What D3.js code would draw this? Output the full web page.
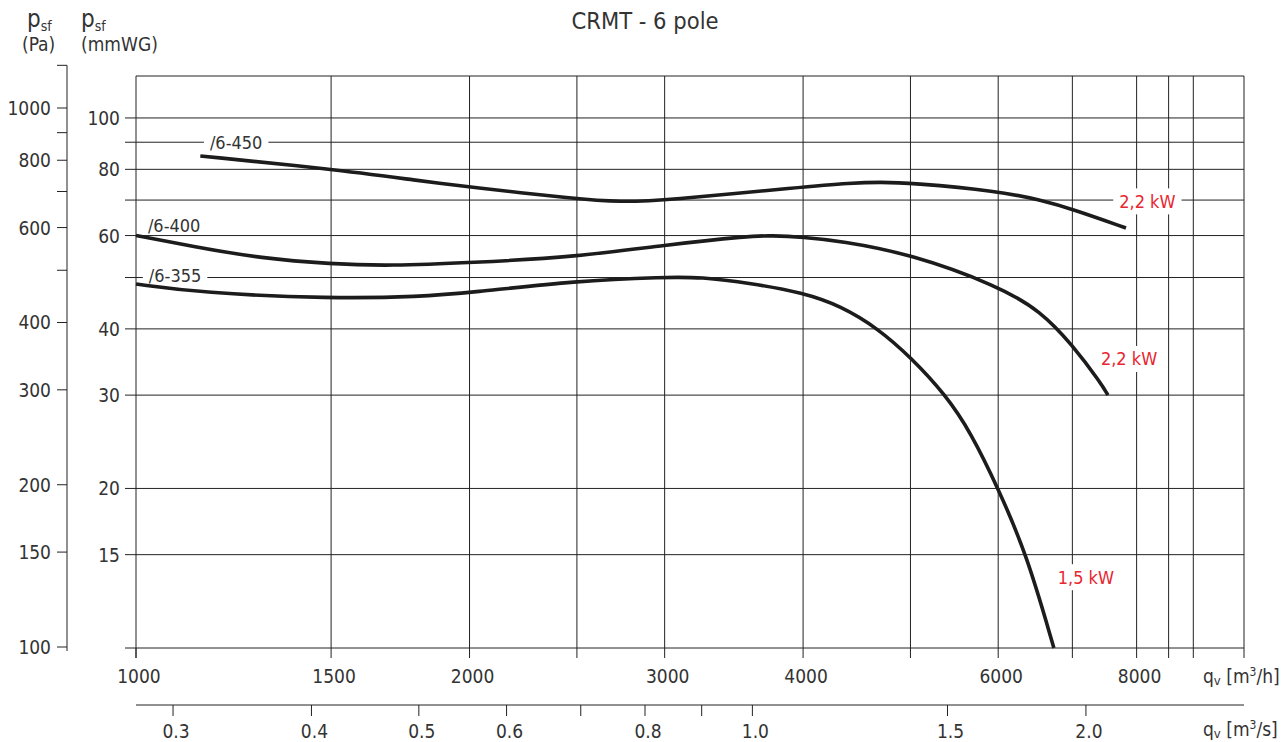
<!DOCTYPE html>
<html>
<head>
<meta charset="utf-8">
<script src="https://cdn.jsdelivr.net/npm/d3@7/dist/d3.min.js"></script>
<style>
  body { margin: 0; background: #fff; }
  svg { display: block; font-family: "Liberation Sans Narrow", "DejaVu Sans Condensed", sans-serif; }
</style>
</head>
<body>
<svg id="chart" width="1282" height="742"></svg>
<script>
// airflow q [m3/h] and static pressure p [mmWG]
const q450 = [1143, 1500, 1805, 2000, 2500, 2736, 3000, 4000, 4415, 4703, 5000, 6000, 6556, 7000, 7825];
const p450 = [84.8, 80.1, 76.1, 74.1, 70.3, 69.4, 69.9, 74.1, 75.4, 75.7, 75.4, 72.8, 70.0, 67.3, 62.0];

const q400 = [1000, 1143, 1294, 1500, 1696, 2000, 2500, 3000, 3586, 3739, 4000, 4325, 5000, 6000, 6556, 7000, 7428, 7537];
const p400 = [60.0, 56.9, 54.4, 53.0, 52.6, 53.3, 54.7, 57.6, 59.9, 60.0, 59.6, 58.6, 55.4, 48.2, 43.2, 37.3, 31.6, 30.0];

const q355 = [1000, 1143, 1500, 1805, 2000, 2500, 3000, 3232, 3586, 4000, 4325, 4671, 5000, 5381, 5668, 6000, 6368, 6736];
const p355 = [48.6, 46.8, 45.6, 46.0, 46.8, 49.3, 50.1, 50.1, 48.8, 46.8, 44.2, 40.1, 35.4, 30.0, 25.5, 20.0, 15.0, 10.0];

const curveNames = ['/6-450', '/6-400', '/6-355'];
const motorLabels = ['2,2 kW', '2,2 kW', '1,5 kW'];

// ticks
const qTicks = [1000, 1500, 2000, 3000, 4000, 6000, 8000];
const qGrid = [1500, 2000, 2500, 3000, 4000, 5000, 6000, 7000, 8000, 8550, 9000, 10000];
const qsTicks = [0.3, 0.4, 0.5, 0.6, 0.7, 0.8, 0.9, 1.0, 1.5, 2.0];
const qsLabels = ['0.3', '0.4', '0.5', '0.6', '0.8', '1.0', '1.5', '2.0'];
const mmTicks = [10, 15, 20, 30, 40, 50, 60, 70, 80, 90, 100];
const mmLabels = [15, 20, 30, 40, 60, 80, 100];
const paTicks = [100, 150, 200, 300, 400, 500, 600, 700, 800, 900, 1000, 1200];
const paLabels = [100, 150, 200, 300, 400, 600, 800, 1000];

const svg = d3.select('#chart');
const ink = '#222';
const txt = '#333';
const red = '#e8262f';

var x = d3.scaleLog().domain([1000, 10000]).range([136, 1244]);
var y = d3.scaleLog().domain([10, 120]).range([648, 76]);
var yPa = d3.scaleLog().domain([100, 1000]).range([647, 108]);

// title
svg.append('text')
  .attr('x', 645).attr('y', 29)
  .attr('text-anchor', 'middle')
  .style('font-size', '23.5px')
  .attr('fill', txt)
  .text('CRMT - 6 pole');

// grid
const grid = svg.append('g').attr('stroke', ink).attr('stroke-width', 1).attr('fill', 'none');
grid.selectAll('.v').data(qGrid).enter().append('line')
  .attr('x1', d => x(d)).attr('x2', d => x(d))
  .attr('y1', y(120)).attr('y2', y(10));
grid.selectAll('.h').data(mmTicks).enter().append('line')
  .attr('x1', x(1000) - 11).attr('x2', x(10000))
  .attr('y1', d => y(d)).attr('y2', d => y(d));
grid.append('line')
  .attr('x1', x(1000)).attr('x2', x(10000))
  .attr('y1', y(120)).attr('y2', y(120));
grid.append('line')
  .attr('x1', x(1000)).attr('x2', x(1000))
  .attr('y1', y(120)).attr('y2', y(10) + 10);

// flow ticks under plot
grid.selectAll('.qt').data(qGrid.concat([1000])).enter().append('line')
  .attr('x1', d => x(d)).attr('x2', d => x(d))
  .attr('y1', y(10)).attr('y2', y(10) + 10);

svg.append('g').selectAll('text').data(qTicks).enter().append('text')
  .attr('x', d => x(d) + 3).attr('y', 683)
  .attr('text-anchor', 'middle')
  .style('font-size', '19px').attr('fill', txt)
  .text(d => d);

// m3/s axis
const ax2 = svg.append('g').attr('stroke', ink).attr('stroke-width', 1);
ax2.append('line').attr('x1', x(1000)).attr('x2', x(10000)).attr('y1', 705).attr('y2', 705);
ax2.selectAll('.t').data(qsTicks).enter().append('line')
  .attr('x1', d => x(d * 3600)).attr('x2', d => x(d * 3600))
  .attr('y1', 705).attr('y2', 716);
svg.append('g').selectAll('text').data(qsLabels).enter().append('text')
  .attr('x', d => x(+d * 3600) + 3).attr('y', 738)
  .attr('text-anchor', 'middle')
  .style('font-size', '19px').attr('fill', txt)
  .text(d => d);

// units
function unit(yy, tail) {
  const t = svg.append('text').attr('x', 1203).attr('y', yy)
    .style('font-size', '19px').attr('fill', txt);
  t.append('tspan').text('q');
  t.append('tspan').attr('dy', 2).style('font-size', '13px').text('v');
  t.append('tspan').attr('dy', -2).text(' [m');
  t.append('tspan').attr('dy', -7).style('font-size', '12px').text('3');
  t.append('tspan').attr('dy', 7).text(tail);
}
unit(683, '/h]');
unit(736, '/s]');

// mmWG axis labels
svg.append('g').selectAll('text').data(mmLabels).enter().append('text')
  .attr('x', 120).attr('y', d => y(d) + 7)
  .attr('text-anchor', 'end')
  .style('font-size', '19px').attr('fill', txt)
  .text(d => d);

// Pa axis
const pa = svg.append('g').attr('stroke', ink).attr('stroke-width', 1);
pa.append('line').attr('x1', 67).attr('x2', 67)
  .attr('y1', yPa(1200)).attr('y2', yPa(100) + 4);
pa.selectAll('.t').data(paTicks).enter().append('line')
  .attr('x1', 57).attr('x2', 67)
  .attr('y1', d => yPa(d)).attr('y2', d => yPa(d));
svg.append('g').selectAll('text').data(paLabels).enter().append('text')
  .attr('x', 51).attr('y', d => yPa(d) + 7)
  .attr('text-anchor', 'end')
  .style('font-size', '19px').attr('fill', txt)
  .text(d => d);

// axis headers
function header(px, ux, unitText) {
  const t = svg.append('text').attr('x', px).attr('y', 27).attr('fill', txt);
  t.append('tspan').style('font-size', '24px').text('p');
  t.append('tspan').attr('dy', 4).style('font-size', '14px').text('sf');
  svg.append('text').attr('x', ux).attr('y', 51)
    .style('font-size', '19px').attr('fill', txt).text(unitText);
}
header(27, 22, '(Pa)');
header(81, 81, '(mmWG)');

// labels with white boxes (drawn under the curves, over the grid)
const labelPos = [
  { t: curveNames[0], q: 1166, p: 90, c: txt },
  { t: curveNames[1], q: 1025, p: 62.8, c: txt, nobox: true },
  { t: curveNames[2], q: 1027, p: 50.4, c: txt },
  { t: motorLabels[0], q: 7716, p: 69.6, c: red },
  { t: motorLabels[1], q: 7428, p: 35.1, c: red },
  { t: motorLabels[2], q: 6790, p: 13.6, c: red }
];
const lg = svg.append('g');
labelPos.forEach(function (d) {
  const g = lg.append('g');
  const r = g.append('rect').attr('fill', '#fff');
  const t = g.append('text')
    .attr('x', x(d.q)).attr('y', y(d.p) + 6.5)
    .style('font-size', '18px').attr('fill', d.c)
    .text(d.t);
  const b = t.node().getBBox();
  if (!d.nobox) {
    r.attr('x', b.x - 6).attr('y', y(d.p) - 13)
      .attr('width', b.width + 12).attr('height', 26);
  }
});

// curves
const line = d3.line()
  .x(d => x(d[0])).y(d => y(d[1]))
  .curve(d3.curveBasis);
const series = [
  d3.zip(q450, p450),
  d3.zip(q400, p400),
  d3.zip(q355, p355)
];
svg.append('g').selectAll('path').data(series).enter().append('path')
  .attr('d', line)
  .attr('fill', 'none')
  .attr('stroke', '#1c1c1c')
  .attr('stroke-width', 3.6);
</script>
</body>
</html>
